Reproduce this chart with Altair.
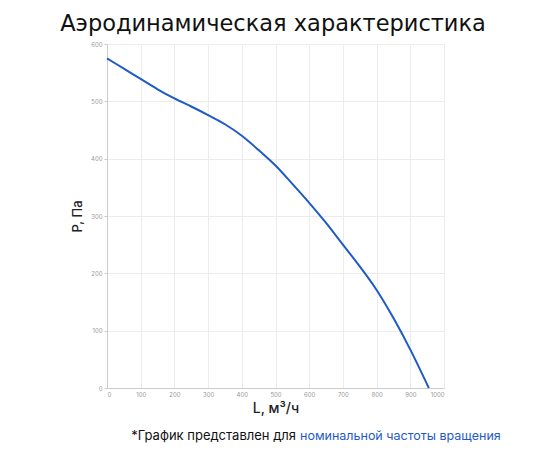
import altair as alt
import pandas as pd

# air flow L (m3/h) and pressure P (Pa)
flow = [0, 50, 100, 150, 200, 250, 300, 350, 400, 450, 500, 550, 600, 650, 700, 750, 800, 850, 900, 955]
pressure = [575, 557, 539, 521, 505, 491, 476, 460, 440, 415, 388, 356, 323, 288, 250, 212, 171, 122, 67, 0]

x_ticks = list(range(0, 1001, 100))
y_ticks = list(range(0, 601, 100))

FONT = "Inter"
BLUE = "#1f5bc6"

source = pd.DataFrame({"L": flow, "P": pressure})

curve = alt.Chart(source).mark_line(
    color=BLUE, strokeWidth=2, interpolate="monotone"
).encode(
    x=alt.X("L:Q",
            scale=alt.Scale(domain=[0, 1000], nice=False),
            axis=alt.Axis(values=x_ticks, format="d", title="L, м³/ч", titleFontSize=14,
                          titleFontWeight=500, titleColor="#222", titlePadding=4,
                          labelFontSize=6, labelColor="#999", labelPadding=3,
                          tickSize=0, domainColor="#ccc", gridColor="#ececec")),
    y=alt.Y("P:Q",
            scale=alt.Scale(domain=[0, 600], nice=False),
            axis=alt.Axis(values=y_ticks, title="P, Па", titleFontSize=13,
                          titleFontWeight=500, titleColor="#222", titlePadding=6,
                          labelFontSize=6, labelColor="#999", labelPadding=2,
                          tickSize=3, tickColor="#ccc", domainColor="#ccc",
                          gridColor="#ececec")),
)

texts = pd.DataFrame({
    "title": ["Аэродинамическая характеристика"],
    "a": ["*График представлен для"],
    "b": ["номинальной частоты вращения"],
})

title = alt.Chart(texts).mark_text(
    align="center", baseline="alphabetic", fontSize=22.5, font="DejaVu Sans", color="#111"
).encode(text="title:N", x=alt.value(166), y=alt.value(-13))

note_black = alt.Chart(texts).mark_text(
    align="right", baseline="middle", fontSize=13, font=FONT, color="#111"
).encode(text="a:N", x=alt.value(189), y=alt.value(392))

note_blue = alt.Chart(texts).mark_text(
    align="left", baseline="middle", fontSize=12.5, font=FONT, color=BLUE
).encode(text="b:N", x=alt.value(193), y=alt.value(392))

chart = (curve + title + note_black + note_blue).properties(
    width=337,
    height=344,
    autosize=alt.AutoSizeParams(type="none"),
    padding={"left": 99, "top": 36, "right": 98, "bottom": 60},
).configure_view(stroke=None).configure_axis(labelFont=FONT, titleFont=FONT)

chart.save("out.html", embed_options={"renderer": "svg", "actions": False})
